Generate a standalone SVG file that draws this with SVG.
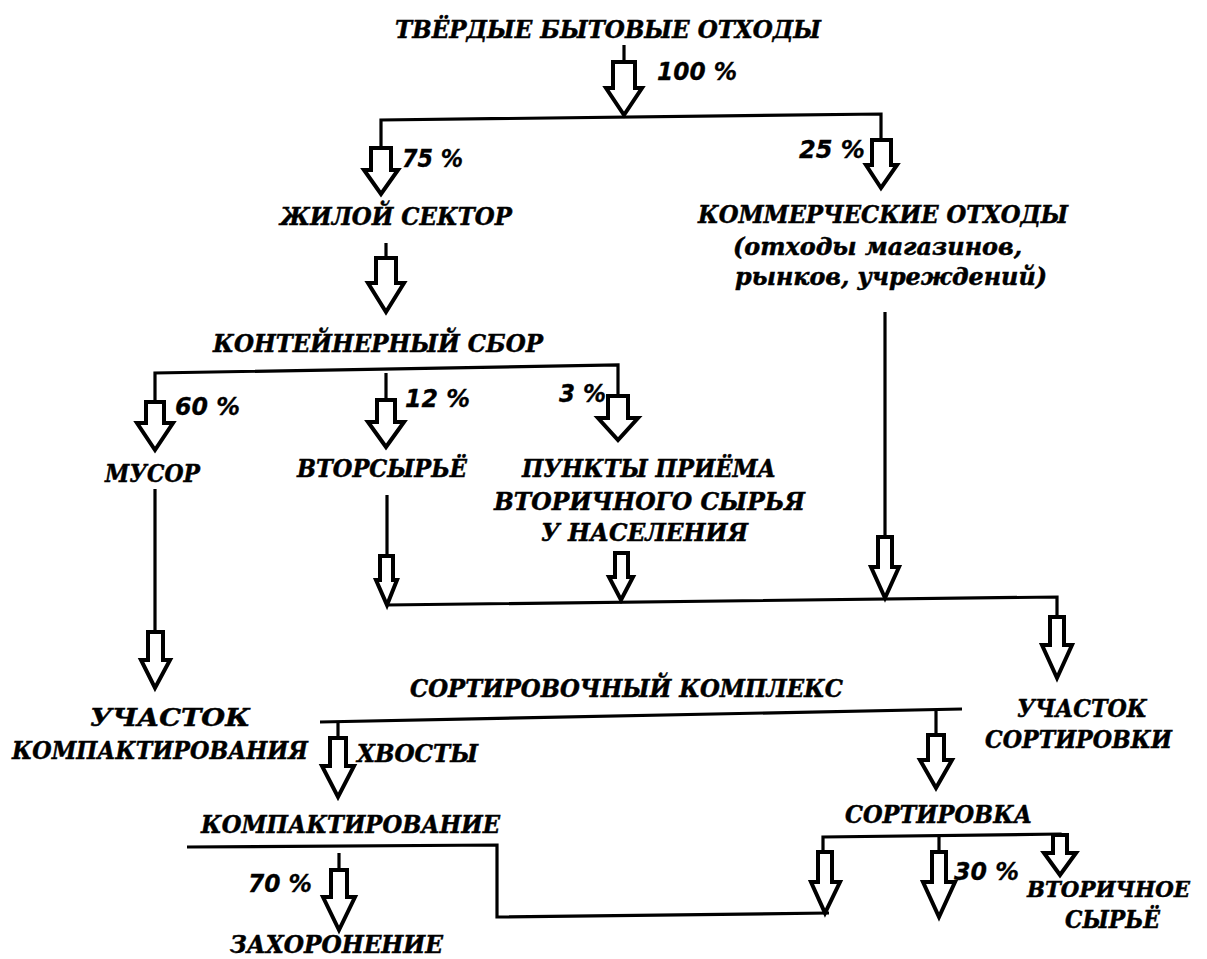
<svg xmlns="http://www.w3.org/2000/svg" width="1207" height="959" viewBox="0 0 1207 959">
<style>
.t{font-family:"DejaVu Serif","Liberation Serif",serif;font-weight:bold;font-style:italic;font-size:24px;fill:#000;stroke:#000;stroke-width:0.5}
.p{font-family:"DejaVu Sans","Liberation Sans",sans-serif;font-weight:bold;font-style:italic;font-size:24px;fill:#000;stroke:#000;stroke-width:0.3}
.ln{fill:none;stroke:#000;stroke-width:3.2;stroke-linejoin:miter}
.ar{fill:#fff;stroke:#000;stroke-width:4;stroke-linejoin:miter}
</style>
<rect width="1207" height="959" fill="#fff"/>
<g id="connectors">
<path class="ln" d="M624 45V62"/>
<path class="ln" d="M381 148V120L881 114V140"/>
<path class="ln" d="M386 243V258"/>
<path class="ln" d="M155 402V373L618 365V397"/>
<path class="ln" d="M386 373V400"/>
<path class="ln" d="M155 489V632"/>
<path class="ln" d="M387 495V556"/>
<path class="ln" d="M885 312V537"/>
<path class="ln" d="M386 605L1057 597V617"/>
<path class="ln" d="M320 722L962 709"/>
<path class="ln" d="M338 721V738"/>
<path class="ln" d="M936 711V735"/>
<path class="ln" d="M187 847L497 845V917L829 913"/>
<path class="ln" d="M339 853V870"/>
<path class="ln" d="M823 852V837L1060 834V835"/>
<path class="ln" d="M939 836V852"/>
<polygon class="ar" points="613,62 635,62 635,88 642,88 624,115 606,88 613,88"/>
<polygon class="ar" points="371,148 391,148 391,170 398,170 381,194 364,170 371,170"/>
<polygon class="ar" points="872,140 891,140 891,165 897,165 881,188 866,165 872,165"/>
<polygon class="ar" points="376,258 396,258 396,283 404,283 386,312 368,283 376,283"/>
<polygon class="ar" points="146,402 164,402 164,423 173,423 155,450 137,423 146,423"/>
<polygon class="ar" points="377,400 395,400 395,422 404,422 386,447 368,422 377,422"/>
<polygon class="ar" points="608,396 628,396 628,418 638,418 618,440 598,418 608,418"/>
<polygon class="ar" points="148,632 163,632 163,660 170,660 155,688 141,660 148,660"/>
<polygon class="ar" points="380,556 393,556 393,580 397,580 387,605 376,580 380,580"/>
<polygon class="ar" points="615,553 628,553 628,577 633,577 621,600 609,577 615,577"/>
<polygon class="ar" points="878,537 892,537 892,567 899,567 885,598 871,567 878,567"/>
<polygon class="ar" points="1050,617 1064,617 1064,645 1072,645 1057,678 1042,645 1050,645"/>
<polygon class="ar" points="330,738 346,738 346,766 354,766 338,797 322,766 330,766"/>
<polygon class="ar" points="928,735 944,735 944,760 952,760 936,788 920,760 928,760"/>
<polygon class="ar" points="331,870 347,870 347,897 355,897 339,930 323,897 331,897"/>
<polygon class="ar" points="818,852 832,852 832,882 840,882 825,913 811,882 818,882"/>
<polygon class="ar" points="932,852 946,852 946,882 955,882 939,917 923,882 932,882"/>
<polygon class="ar" points="1053,835 1067,835 1067,853 1076,853 1060,875 1044,853 1053,853"/>
</g>
<g id="n-tbo"><text class="t" x="395" y="38" textLength="426" lengthAdjust="spacingAndGlyphs">ТВЁРДЫЕ БЫТОВЫЕ ОТХОДЫ</text></g>
<g id="p100"><text class="p" x="657" y="80" textLength="80" lengthAdjust="spacingAndGlyphs">100 %</text></g>
<g id="p75"><text class="p" x="402" y="167" textLength="61" lengthAdjust="spacingAndGlyphs">75 %</text></g>
<g id="p25"><text class="p" x="799" y="158" textLength="66" lengthAdjust="spacingAndGlyphs">25 %</text></g>
<g id="n-zhiloy"><text class="t" x="280" y="225" textLength="232" lengthAdjust="spacingAndGlyphs">ЖИЛОЙ СЕКТОР</text></g>
<g id="n-kommerch">
<text class="t" x="698" y="223" textLength="370" lengthAdjust="spacingAndGlyphs">КОММЕРЧЕСКИЕ ОТХОДЫ</text>
<text class="t" x="733" y="255" textLength="289" lengthAdjust="spacingAndGlyphs">(отходы магазинов,</text>
<text class="t" x="735" y="285" textLength="312" lengthAdjust="spacingAndGlyphs">рынков, учреждений)</text>
</g>
<g id="n-kont"><text class="t" x="213" y="352" textLength="330" lengthAdjust="spacingAndGlyphs">КОНТЕЙНЕРНЫЙ СБОР</text></g>
<g id="p60"><text class="p" x="175" y="415" textLength="65" lengthAdjust="spacingAndGlyphs">60 %</text></g>
<g id="p12"><text class="p" x="405" y="407" textLength="65" lengthAdjust="spacingAndGlyphs">12 %</text></g>
<g id="p3"><text class="p" x="559" y="402" textLength="47" lengthAdjust="spacingAndGlyphs">3 %</text></g>
<g id="n-musor"><text class="t" x="105" y="482" textLength="95" lengthAdjust="spacingAndGlyphs">МУСОР</text></g>
<g id="n-vtorsyre"><text class="t" x="297" y="477" textLength="170" lengthAdjust="spacingAndGlyphs">ВТОРСЫРЬЁ</text></g>
<g id="n-punkty">
<text class="t" x="522" y="477" textLength="254" lengthAdjust="spacingAndGlyphs">ПУНКТЫ ПРИЁМА</text>
<text class="t" x="494" y="510" textLength="311" lengthAdjust="spacingAndGlyphs">ВТОРИЧНОГО СЫРЬЯ</text>
<text class="t" x="541" y="541" textLength="207" lengthAdjust="spacingAndGlyphs">У НАСЕЛЕНИЯ</text>
</g>
<g id="n-uch-komp">
<text class="t" x="90" y="726" textLength="160" lengthAdjust="spacingAndGlyphs">УЧАСТОК</text>
<text class="t" x="12" y="759" textLength="296" lengthAdjust="spacingAndGlyphs">КОМПАКТИРОВАНИЯ</text>
</g>
<g id="n-sort-kompl"><text class="t" x="410" y="697" textLength="433" lengthAdjust="spacingAndGlyphs">СОРТИРОВОЧНЫЙ КОМПЛЕКС</text></g>
<g id="n-uch-sort">
<text class="t" x="1017" y="717" textLength="130" lengthAdjust="spacingAndGlyphs">УЧАСТОК</text>
<text class="t" x="985" y="748" textLength="187" lengthAdjust="spacingAndGlyphs">СОРТИРОВКИ</text>
</g>
<g id="n-hvosty"><text class="t" x="357" y="762" textLength="121" lengthAdjust="spacingAndGlyphs">ХВОСТЫ</text></g>
<g id="n-kompakt"><text class="t" x="201" y="833" textLength="299" lengthAdjust="spacingAndGlyphs">КОМПАКТИРОВАНИЕ</text></g>
<g id="n-sortirovka"><text class="t" x="845" y="823" textLength="187" lengthAdjust="spacingAndGlyphs">СОРТИРОВКА</text></g>
<g id="p70"><text class="p" x="248" y="892" textLength="64" lengthAdjust="spacingAndGlyphs">70 %</text></g>
<g id="p30"><text class="p" x="954" y="880" textLength="65" lengthAdjust="spacingAndGlyphs">30 %</text></g>
<g id="n-vtor-syre">
<text class="t" x="1027" y="897" textLength="163" lengthAdjust="spacingAndGlyphs" style="font-size:22px">ВТОРИЧНОЕ</text>
<text class="t" x="1065" y="928" textLength="95" lengthAdjust="spacingAndGlyphs">СЫРЬЁ</text>
</g>
<g id="n-zahor"><text class="t" x="230" y="953" textLength="213" lengthAdjust="spacingAndGlyphs">ЗАХОРОНЕНИЕ</text></g>
</svg>
